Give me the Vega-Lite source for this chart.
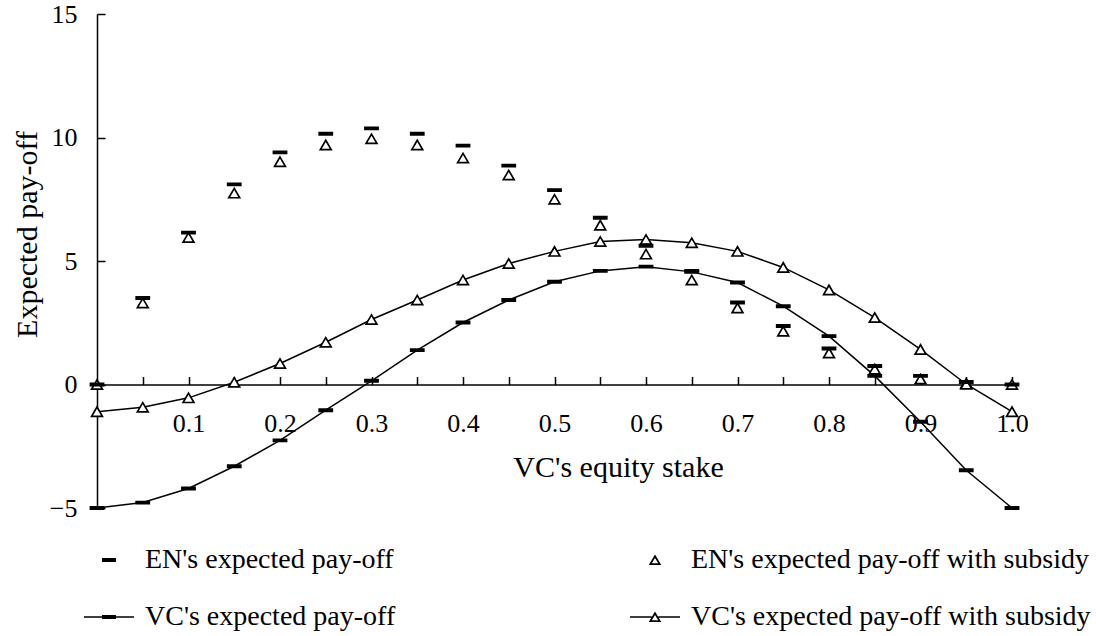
{
  "$schema": "https://vega.github.io/schema/vega-lite/v6.json",
  "width": 915,
  "height": 494,
  "autosize": {"type": "none"},
  "padding": {"left": 97, "top": 14, "right": 84, "bottom": 128},
  "background": "white",
  "config": {
    "font": "Liberation Serif",
    "view": {"stroke": null},
    "axis": {"grid": false, "domainColor": "black", "tickColor": "black", "labelColor": "black", "titleColor": "black", "domainWidth": 1.5, "tickWidth": 1.5, "labelFont": "Liberation Serif", "titleFont": "Liberation Serif", "titleFontWeight": "normal"},
    "legend": {"labelFont": "Liberation Serif", "symbolOpacity": 1}
  },
  "data": {
    "values": [
      {"x": 0.00, "series": "EN's expected pay-off", "y": 0},
      {"x": 0.05, "series": "EN's expected pay-off", "y": 3.5},
      {"x": 0.10, "series": "EN's expected pay-off", "y": 6.15},
      {"x": 0.15, "series": "EN's expected pay-off", "y": 8.1},
      {"x": 0.20, "series": "EN's expected pay-off", "y": 9.4},
      {"x": 0.25, "series": "EN's expected pay-off", "y": 10.15},
      {"x": 0.30, "series": "EN's expected pay-off", "y": 10.37},
      {"x": 0.35, "series": "EN's expected pay-off", "y": 10.15},
      {"x": 0.40, "series": "EN's expected pay-off", "y": 9.67},
      {"x": 0.45, "series": "EN's expected pay-off", "y": 8.86},
      {"x": 0.50, "series": "EN's expected pay-off", "y": 7.87},
      {"x": 0.55, "series": "EN's expected pay-off", "y": 6.75},
      {"x": 0.60, "series": "EN's expected pay-off", "y": 5.62},
      {"x": 0.65, "series": "EN's expected pay-off", "y": 4.6},
      {"x": 0.70, "series": "EN's expected pay-off", "y": 3.32},
      {"x": 0.75, "series": "EN's expected pay-off", "y": 2.37},
      {"x": 0.80, "series": "EN's expected pay-off", "y": 1.46},
      {"x": 0.85, "series": "EN's expected pay-off", "y": 0.75},
      {"x": 0.90, "series": "EN's expected pay-off", "y": 0.35},
      {"x": 0.95, "series": "EN's expected pay-off", "y": 0.1},
      {"x": 1.00, "series": "EN's expected pay-off", "y": 0},
      {"x": 0.00, "series": "EN's expected pay-off with subsidy", "y": 0},
      {"x": 0.05, "series": "EN's expected pay-off with subsidy", "y": 3.3},
      {"x": 0.10, "series": "EN's expected pay-off with subsidy", "y": 5.95},
      {"x": 0.15, "series": "EN's expected pay-off with subsidy", "y": 7.75},
      {"x": 0.20, "series": "EN's expected pay-off with subsidy", "y": 9.02},
      {"x": 0.25, "series": "EN's expected pay-off with subsidy", "y": 9.7},
      {"x": 0.30, "series": "EN's expected pay-off with subsidy", "y": 9.95},
      {"x": 0.35, "series": "EN's expected pay-off with subsidy", "y": 9.7},
      {"x": 0.40, "series": "EN's expected pay-off with subsidy", "y": 9.17},
      {"x": 0.45, "series": "EN's expected pay-off with subsidy", "y": 8.48},
      {"x": 0.50, "series": "EN's expected pay-off with subsidy", "y": 7.5},
      {"x": 0.55, "series": "EN's expected pay-off with subsidy", "y": 6.45},
      {"x": 0.60, "series": "EN's expected pay-off with subsidy", "y": 5.28},
      {"x": 0.65, "series": "EN's expected pay-off with subsidy", "y": 4.23},
      {"x": 0.70, "series": "EN's expected pay-off with subsidy", "y": 3.1},
      {"x": 0.75, "series": "EN's expected pay-off with subsidy", "y": 2.16},
      {"x": 0.80, "series": "EN's expected pay-off with subsidy", "y": 1.28},
      {"x": 0.85, "series": "EN's expected pay-off with subsidy", "y": 0.62},
      {"x": 0.90, "series": "EN's expected pay-off with subsidy", "y": 0.22},
      {"x": 0.95, "series": "EN's expected pay-off with subsidy", "y": 0.05},
      {"x": 1.00, "series": "EN's expected pay-off with subsidy", "y": 0},
      {"x": 0.00, "series": "VC's expected pay-off", "y": -5.0},
      {"x": 0.05, "series": "VC's expected pay-off", "y": -4.78},
      {"x": 0.10, "series": "VC's expected pay-off", "y": -4.21},
      {"x": 0.15, "series": "VC's expected pay-off", "y": -3.31},
      {"x": 0.20, "series": "VC's expected pay-off", "y": -2.26},
      {"x": 0.25, "series": "VC's expected pay-off", "y": -1.04},
      {"x": 0.30, "series": "VC's expected pay-off", "y": 0.15},
      {"x": 0.35, "series": "VC's expected pay-off", "y": 1.39},
      {"x": 0.40, "series": "VC's expected pay-off", "y": 2.51},
      {"x": 0.45, "series": "VC's expected pay-off", "y": 3.42},
      {"x": 0.50, "series": "VC's expected pay-off", "y": 4.16},
      {"x": 0.55, "series": "VC's expected pay-off", "y": 4.6},
      {"x": 0.60, "series": "VC's expected pay-off", "y": 4.77},
      {"x": 0.65, "series": "VC's expected pay-off", "y": 4.56},
      {"x": 0.70, "series": "VC's expected pay-off", "y": 4.13},
      {"x": 0.75, "series": "VC's expected pay-off", "y": 3.17},
      {"x": 0.80, "series": "VC's expected pay-off", "y": 1.96},
      {"x": 0.85, "series": "VC's expected pay-off", "y": 0.35},
      {"x": 0.90, "series": "VC's expected pay-off", "y": -1.51},
      {"x": 0.95, "series": "VC's expected pay-off", "y": -3.47},
      {"x": 1.00, "series": "VC's expected pay-off", "y": -5.0},
      {"x": 0.00, "series": "VC's expected pay-off with subsidy", "y": -1.1},
      {"x": 0.05, "series": "VC's expected pay-off with subsidy", "y": -0.92},
      {"x": 0.10, "series": "VC's expected pay-off with subsidy", "y": -0.54},
      {"x": 0.15, "series": "VC's expected pay-off with subsidy", "y": 0.09},
      {"x": 0.20, "series": "VC's expected pay-off with subsidy", "y": 0.85},
      {"x": 0.25, "series": "VC's expected pay-off with subsidy", "y": 1.71},
      {"x": 0.30, "series": "VC's expected pay-off with subsidy", "y": 2.63},
      {"x": 0.35, "series": "VC's expected pay-off with subsidy", "y": 3.42},
      {"x": 0.40, "series": "VC's expected pay-off with subsidy", "y": 4.23},
      {"x": 0.45, "series": "VC's expected pay-off with subsidy", "y": 4.9},
      {"x": 0.50, "series": "VC's expected pay-off with subsidy", "y": 5.39},
      {"x": 0.55, "series": "VC's expected pay-off with subsidy", "y": 5.79},
      {"x": 0.60, "series": "VC's expected pay-off with subsidy", "y": 5.87},
      {"x": 0.65, "series": "VC's expected pay-off with subsidy", "y": 5.74},
      {"x": 0.70, "series": "VC's expected pay-off with subsidy", "y": 5.39},
      {"x": 0.75, "series": "VC's expected pay-off with subsidy", "y": 4.74},
      {"x": 0.80, "series": "VC's expected pay-off with subsidy", "y": 3.83},
      {"x": 0.85, "series": "VC's expected pay-off with subsidy", "y": 2.71},
      {"x": 0.90, "series": "VC's expected pay-off with subsidy", "y": 1.42},
      {"x": 0.95, "series": "VC's expected pay-off with subsidy", "y": 0.01},
      {"x": 1.00, "series": "VC's expected pay-off with subsidy", "y": -1.1}
    ]
  },
  "encoding": {
    "x": {
      "field": "x", "type": "quantitative",
      "scale": {"domain": [0, 1], "nice": false, "zero": false},
      "axis": {
        "title": "VC's equity stake",
        "offset": -123.5,
        "values": [0.05, 0.1, 0.15, 0.2, 0.25, 0.3, 0.35, 0.4, 0.45, 0.5, 0.55, 0.6, 0.65, 0.7, 0.75, 0.8, 0.85, 0.9, 0.95, 1.0],
        "labelExpr": "round(datum.value*100) % 10 == 0 ? format(datum.value, '.1f') : ''",
        "tickSize": -8,
        "labelPadding": 34,
        "labelFontSize": 26,
        "labelFlush": false,
        "labelOverlap": false,
        "titleFontSize": 30,
        "titlePadding": 16,
        "titleX": 521,
        "titleAlign": "center"
      }
    },
    "y": {
      "field": "y", "type": "quantitative",
      "scale": {"domain": [-5, 15], "nice": false, "zero": false},
      "axis": {
        "title": "Expected pay-off",
        "values": [-5, 0, 5, 10, 15],
        "tickSize": -8,
        "labelPadding": 28,
        "labelFontSize": 26,
        "titleFontSize": 30,
        "titleAngle": -90,
        "titleX": -70,
        "titleY": 220,
        "titleAlign": "center",
        "titleBaseline": "middle"
      }
    }
  },
  "layer": [
    {
      "transform": [{"filter": {"field": "series", "oneOf": ["VC's expected pay-off", "VC's expected pay-off with subsidy"]}}],
      "mark": {"type": "line", "color": "black", "strokeWidth": 1.5},
      "encoding": {"detail": {"field": "series", "type": "nominal"}}
    },
    {
      "transform": [{"filter": {"field": "series", "oneOf": ["EN's expected pay-off with subsidy", "VC's expected pay-off with subsidy"]}}],
      "mark": {"type": "point", "shape": "M0,-0.62L0.72,0.62L-0.72,0.62Z", "fill": "white", "filled": true, "stroke": "black", "strokeWidth": 1.7, "opacity": 1, "size": 225},
      "encoding": {"detail": {"field": "series", "type": "nominal"}}
    },
    {
      "transform": [{"filter": {"field": "series", "oneOf": ["EN's expected pay-off", "VC's expected pay-off"]}}],
      "mark": {"type": "point", "shape": "M-0.95,-0.17H0.95V0.17H-0.95Z", "fill": "black", "filled": true, "stroke": "black", "strokeWidth": 1.5, "opacity": 1, "size": 196},
      "encoding": {"detail": {"field": "series", "type": "nominal"}}
    },
    {
      "transform": [{"filter": "false"}],
      "mark": {"type": "point", "filled": true, "color": "black", "opacity": 1, "size": 2500},
      "encoding": {
        "shape": {
          "field": "series", "type": "nominal",
          "scale": {
            "domain": ["EN's expected pay-off", "VC's expected pay-off", "EN's expected pay-off with subsidy", "VC's expected pay-off with subsidy"],
            "range": [
              "M-0.28,-0.08H0.28V0.08H-0.28Z",
              "M-1,-0.03H1V0.03H-1ZM-0.28,-0.08H0.28V0.08H-0.28Z",
              "M0,-0.22L0.25,0.2L-0.25,0.2ZM0,-0.083L-0.127,0.13L0.127,0.13Z",
              "M-1,-0.03H-0.13V0.03H-1ZM0.13,-0.03H1V0.03H0.13ZM0,-0.22L0.25,0.2L-0.25,0.2ZM0,-0.083L-0.127,0.13L0.127,0.13Z"
            ]
          },
          "legend": {
            "title": null,
            "orient": "none",
            "legendX": -14,
            "legendY": 520,
            "columns": 2,
            "columnPadding": 231,
            "rowPadding": 17,
            "padding": 0,
            "symbolSize": 2500,
            "symbolFillColor": "black",
            "labelFontSize": 28,
            "labelOffset": 10,
            "labelLimit": 600,
            "labelColor": "black",
            "symbolOpacity": 1
          }
        }
      }
    }
  ]
}
